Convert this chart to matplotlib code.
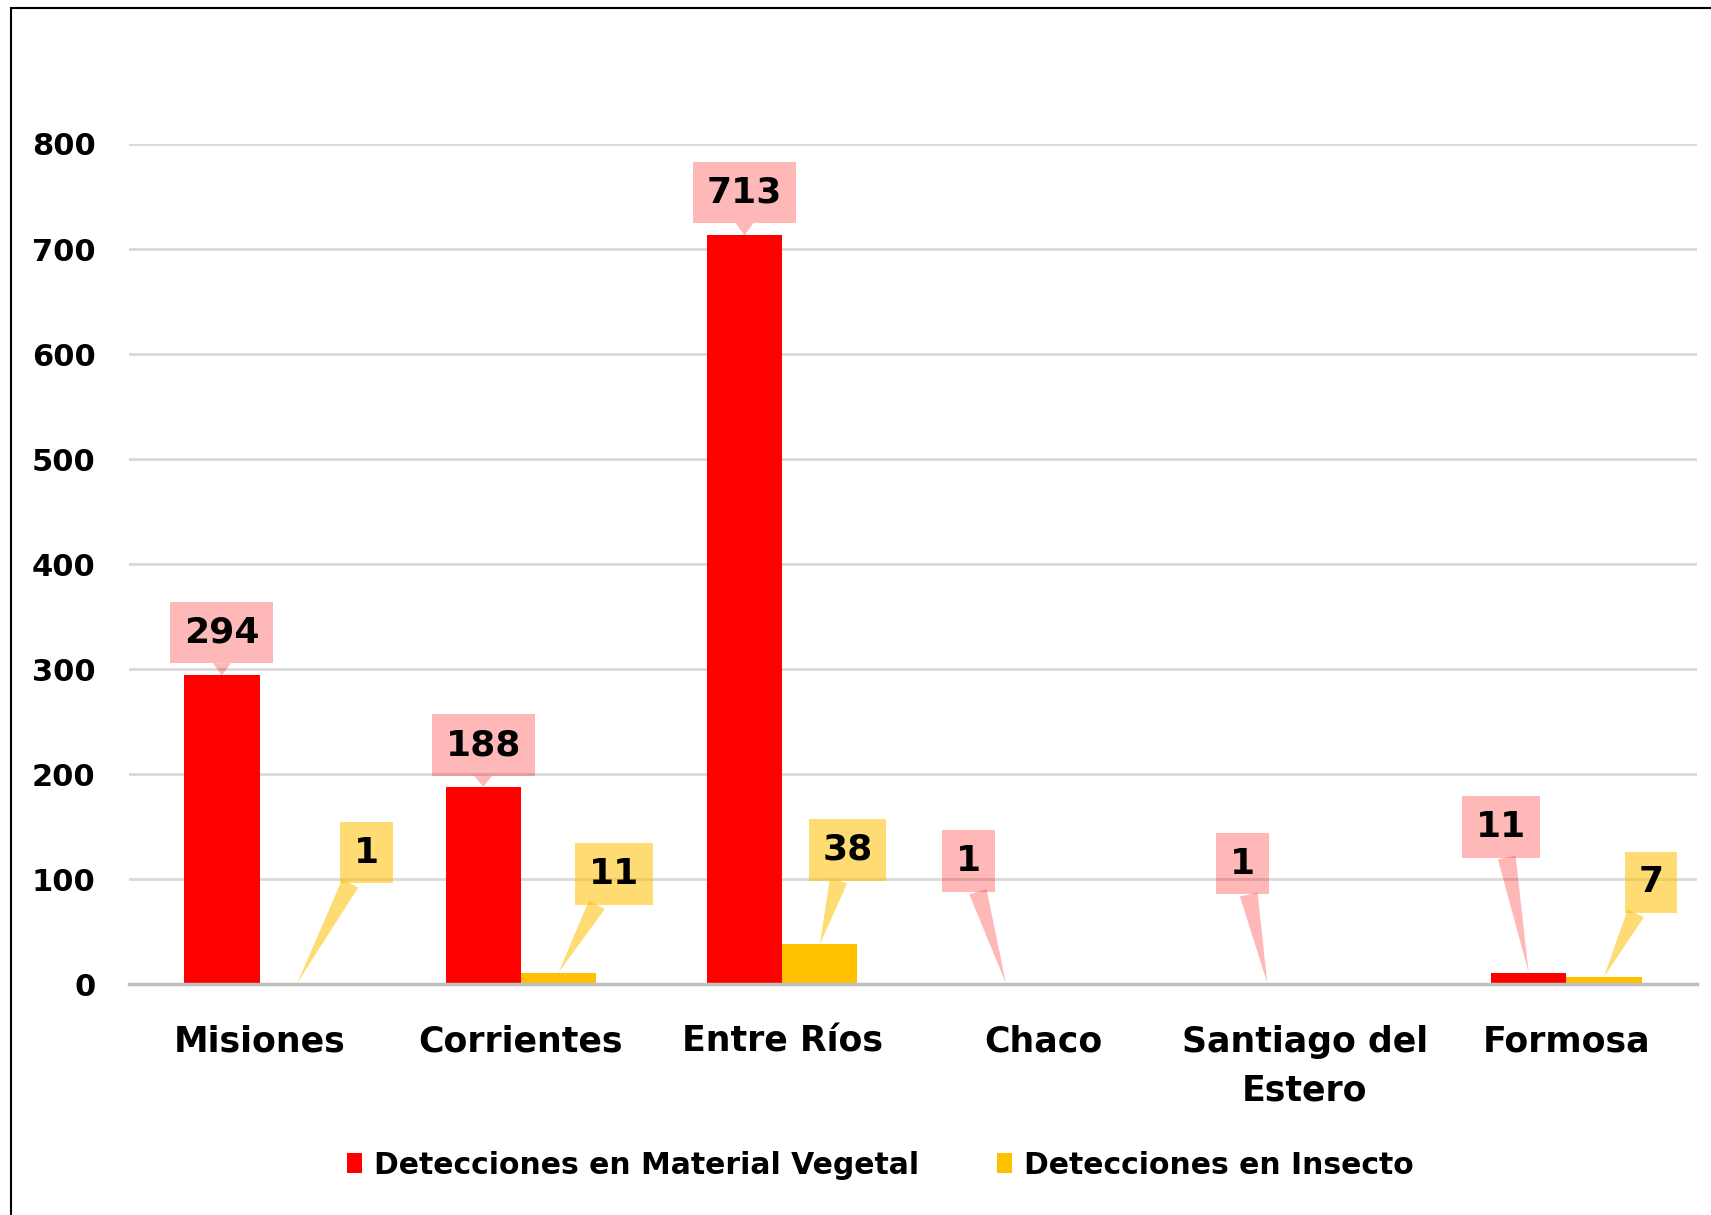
import matplotlib.pyplot as plt
import numpy as np

# data
provincias = ['Misiones', 'Corrientes', 'Entre Ríos', 'Chaco', 'Santiago del\nEstero', 'Formosa']
material_vegetal = [294, 188, 713, 1, 1, 11]
insecto = [1, 11, 38, 0, 0, 7]
series_names = ['Detecciones en Material Vegetal', 'Detecciones en Insecto']
y_ticks = [0, 100, 200, 300, 400, 500, 600, 700, 800]

# callout box offsets from the bar top, in points
veg_offsets = [(0, 31), (0, 30), (0, 31), (-27, 88), (-18, 86), (-20, 105)]
ins_offsets = [(50, 94), (40, 71), (20, 68), (0, 0), (0, 0), (34, 68)]

RED = '#FF0000'
YELLOW = '#FFC000'
RED_BOX = (1.0, 0.0, 0.0, 0.28)
YELLOW_BOX = (1.0, 0.753, 0.0, 0.55)

fig = plt.figure(figsize=(17.11, 12.15), dpi=100)
ax = fig.add_axes([0.0753, 0.1899, 0.9165, 0.6916])

x = np.arange(len(provincias))
w = 0.288
b1 = ax.bar(x - w / 2, material_vegetal, w, color=RED, label=series_names[0], zorder=2)
b2 = ax.bar(x + w / 2, insecto, w, color=YELLOW, label=series_names[1], zorder=2)

ax.set_xlim(-0.5, len(provincias) - 0.5)
ax.set_ylim(0, 800)
ax.set_yticks(y_ticks)
ax.set_xticks(x)
ax.set_xticklabels(provincias, fontsize=25, fontweight='bold')
for lbl in ax.get_xticklabels():
    lbl.set_linespacing(1.55)
ax.set_yticklabels([str(t) for t in y_ticks], fontsize=22, fontweight='bold')
ax.tick_params(axis='both', length=0)
ax.tick_params(axis='y', pad=24)
ax.tick_params(axis='x', pad=29)

ax.yaxis.grid(True, color='#D9D9D9', lw=2)
ax.set_axisbelow(True)
for s in ['top', 'right', 'left']:
    ax.spines[s].set_visible(False)
ax.spines['bottom'].set_color('#BFBFBF')
ax.spines['bottom'].set_linewidth(2.5)
ax.spines['bottom'].set_zorder(3)


def callout(xp, yp, val, off, color):
    ax.annotate(str(val), xy=(xp, yp), xytext=off, textcoords='offset points',
                ha='center', va='center', fontsize=26, fontweight='bold',
                bbox=dict(boxstyle='square,pad=0.38', fc=color, ec='none'),
                arrowprops=dict(arrowstyle='wedge,tail_width=0.5,shrink_factor=0.5',
                                fc=color, ec='none', shrinkA=0, shrinkB=0),
                annotation_clip=False, zorder=5)


for i in range(len(provincias)):
    callout(x[i] - w / 2, material_vegetal[i], material_vegetal[i], veg_offsets[i], RED_BOX)
    if insecto[i] > 0:
        callout(x[i] + w / 2, insecto[i], insecto[i], ins_offsets[i], YELLOW_BOX)

fig.legend(handles=[b1, b2], loc='center', bbox_to_anchor=(0.5145, 0.041), ncol=2,
           frameon=False, prop={'weight': 'bold', 'size': 21.5},
           handlelength=0.5, handleheight=0.65, handletextpad=0.4, columnspacing=2.6)

# outer frame
fig.patches.append(plt.Rectangle((0.0064, -0.05), 1.1, 1.0434, transform=fig.transFigure,
                                 fill=False, ec='black', lw=1.5))

fig.savefig('out.png', dpi=100)
